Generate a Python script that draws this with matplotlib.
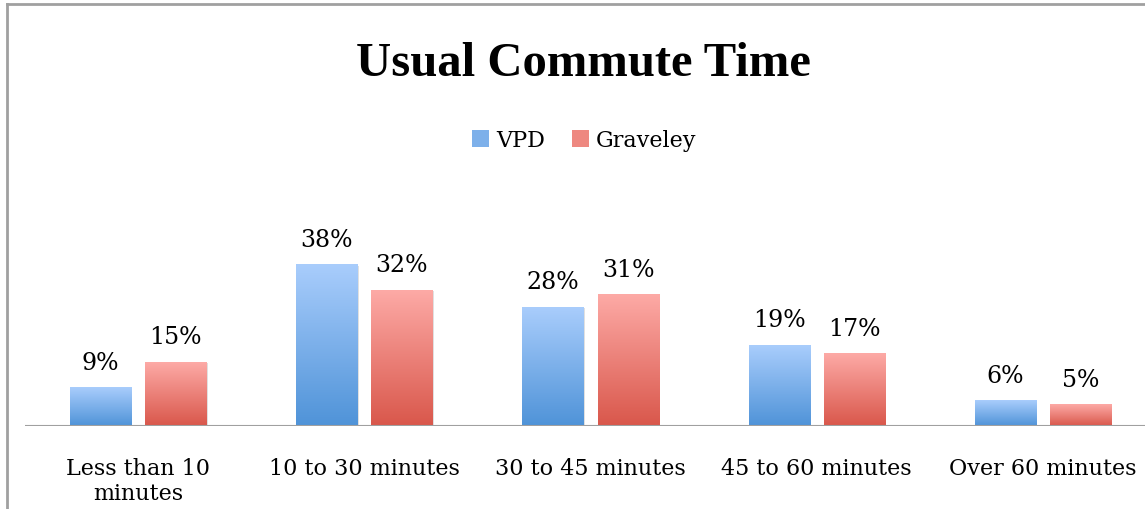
import numpy as np
import matplotlib
matplotlib.use("Agg")
import matplotlib.pyplot as plt
from matplotlib.colors import LinearSegmentedColormap
from matplotlib.patches import Patch
from matplotlib.lines import Line2D

categories = ["Less than 10\nminutes", "10 to 30 minutes", "30 to 45 minutes",
              "45 to 60 minutes", "Over 60 minutes"]
vpd = [9, 38, 28, 19, 6]
graveley = [15, 32, 31, 17, 5]
series_names = ["VPD", "Graveley"]

plt.rcParams['font.family'] = ['DejaVu Serif']

W, H = 1145, 510
fig = plt.figure(figsize=(W / 100, H / 100), dpi=100)

# axes placed in pixel terms: category width ~226 px, baseline at y=427
left_px, right_px = 25, 1156
base_px, top_px = 427, 427 - 40 * 4.24
ax = fig.add_axes([left_px / W, (H - base_px) / H,
                   (right_px - left_px) / W, (base_px - top_px) / H])
ax.set_facecolor("none")

blue_cm = LinearSegmentedColormap.from_list("b", ["#4f93d8", "#a9cdfc"])
red_cm = LinearSegmentedColormap.from_list("r", ["#d9574b", "#fdaaa6"])
grad = np.linspace(0, 1, 256).reshape(-1, 1)

width = 0.27
offset = 0.166
x = np.arange(len(categories))
for vals, off, cm in [(vpd, -offset, blue_cm), (graveley, offset, red_cm)]:
    for xi, v in zip(x, vals):
        x0, x1 = xi + off - width / 2, xi + off + width / 2
        # soft shadow
        ax.bar(xi + off + 0.006, v, width, bottom=-0.25, color="#000000",
               alpha=0.12, zorder=1, linewidth=0)
        ax.imshow(grad, extent=[x0, x1, 0, v], origin="lower", cmap=cm,
                  aspect="auto", zorder=2, interpolation="bicubic")
        ax.text(xi + off, v + 3.3, f"{v}%", ha="center", va="bottom",
                fontsize=17, zorder=3)

ax.set_xlim(-0.5, len(categories) - 0.5)
ax.set_ylim(0, 40)
ax.axhline(0, color="#a0a0a0", linewidth=1.5, zorder=4)
for s in ax.spines.values():
    s.set_visible(False)
ax.set_yticks([])
ax.set_xticks(x)
ax.set_xticklabels(categories, fontsize=16, linespacing=1.2)
ax.tick_params(axis="x", length=0, pad=22)

fig.text(583 / W, 1 - 64 / H, "Usual Commute Time", ha="center", va="center",
         fontsize=35, fontweight="bold", family=["Liberation Serif"])

handles = [Patch(facecolor="#7db0ea", edgecolor="none"),
           Patch(facecolor="#ee8880", edgecolor="none")]
fig.legend(handles, series_names, loc="center", bbox_to_anchor=(584 / W, 1 - 141 / H),
           ncol=2, frameon=False, fontsize=16, handlelength=0.8, handleheight=0.8,
           handletextpad=0.3, columnspacing=1.2)

# chart border (left and top visible)
fig.add_artist(Line2D([7 / W, 7 / W], [0, 1 - 5 / H], transform=fig.transFigure,
                      color="#a0a0a0", linewidth=2))
fig.add_artist(Line2D([7 / W, 1], [1 - 5 / H, 1 - 5 / H], transform=fig.transFigure,
                      color="#a0a0a0", linewidth=2))

fig.savefig("out.png", dpi=100)
